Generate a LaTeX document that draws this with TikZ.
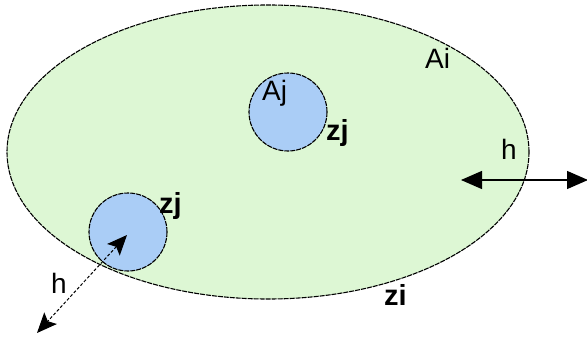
\documentclass[tikz,border=0pt]{standalone}
\usepackage{fontspec}
\setmainfont{Liberation Sans}
\usetikzlibrary{shapes.geometric,arrows.meta}
\definecolor{regiongreen}{RGB}{221,247,212}
\definecolor{cellblue}{RGB}{170,205,246}
\tikzset{
  outline/.style={draw=black, line width=1.1pt, dash pattern=on 5pt off 1pt},
  cell/.style={circle, outline, fill=cellblue, minimum size=78pt, inner sep=0pt},
  lbl/.style={anchor=base west, inner sep=0pt, font=\fontsize{28}{30}\selectfont},
  blbl/.style={lbl, font=\fontsize{29}{30}\selectfont\bfseries},
  harrow/.style={line width=1.3pt, {Triangle[length=21pt,width=18pt]}-{Triangle[length=21pt,width=18pt]}},
  darrow/.style={line width=1pt, dash pattern=on 3pt off 2pt, {Stealth[length=20pt,width=17pt,inset=4pt]}-{Stealth[length=20pt,width=17pt,inset=4pt]}}
}
\begin{document}
\begin{tikzpicture}[x=1pt,y=-1pt]
\useasboundingbox (0,0) rectangle (587,340);
% big region
\node[ellipse, fill=regiongreen, minimum width=522pt, minimum height=294pt, inner sep=0pt] (region) at (268,152) {};
% cells
\node[cell] (cellA) at (288,112) {};
\node[cell] (cellB) at (128,232) {};
% region border on top
\node[ellipse, outline, minimum width=522pt, minimum height=294pt, inner sep=0pt] (regionborder) at (268,152) {};
% labels
\node[lbl] (tAi) at (425,68) {Ai};
\node[lbl] (tAj) at (262,100) {Aj};
\node[blbl] (tzj1) at (326,140) {zj};
\node[blbl] (tzj2) at (159,213) {zj};
\node[blbl] (tzi) at (384,305) {zi};
\node[lbl] (th1) at (501,159) {h};
\node[lbl] (th2) at (51,293) {h};
% arrows
\coordinate (hr1) at (461,180);
\coordinate (hr2) at (588,180);
\draw[harrow] (hr1) -- (hr2);
\coordinate (hl1) at (127,235);
\coordinate (hl2) at (37,333);
\draw[darrow] (hl1) -- (hl2);
\end{tikzpicture}
\end{document}
